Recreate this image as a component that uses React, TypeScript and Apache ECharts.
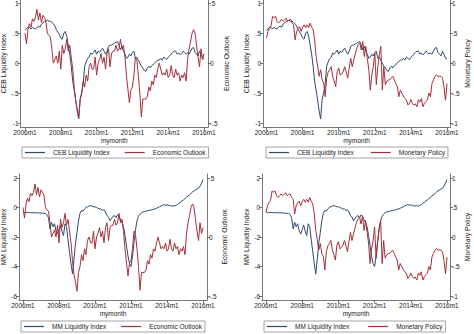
import React, { useEffect, useRef } from "react";
import * as echarts from "echarts";

// month index: 0 = 2006m1 ... 120 = 2016m1
const MONTHS: number[] = Array.from({ length: 121 }, (_, i) => i);
const X_TICKS = [0, 24, 48, 72, 96, 120];
const X_TICK_LABELS = ["2006m1", "2008m1", "2010m1", "2012m1", "2014m1", "2016m1"];

const CEB_TICKS = [-1, -0.5, 0, 0.5, 1];
const EO_TICKS = [-0.5, 0, 0.5];
const MP_TICKS = [-1, -0.5, 0, 0.5, 1];
const MM_TICKS = [-6, -4, -2, 0, 2];

const CEB_LIQUIDITY: number[] = [
  0.55, 0.57, 0.6, 0.6, 0.57, 0.6, 0.58, 0.57, 0.6, 0.62, 0.6, 0.65,
  0.67, 0.7, 0.7, 0.72, 0.7, 0.7, 0.68, 0.66, 0.62, 0.56, 0.52, 0.48,
  0.42, 0.4, 0.5, 0.53, 0.45, 0.3, 0.15, -0.05, -0.3, -0.45, -0.62, -0.8,
  -0.93, -0.6, -0.5, -0.35, -0.05, 0.02, 0.08, 0.1, 0.17, 0.15, 0.18, 0.22,
  0.15, 0.2, 0.18, 0.22, 0.25, 0.2, 0.15, 0.2, 0.28, 0.3, 0.3, 0.32,
  0.33, 0.35, 0.36, 0.3, 0.22, 0.28, 0.2, 0.15, 0.08, 0.1, 0.15, 0.12,
  0.18, 0.2, 0.08, 0.1, 0.05, 0.0, -0.05, -0.08, -0.12, -0.14, -0.08, -0.05,
  -0.08, -0.04, -0.02, 0.0, 0.03, 0.05, 0.05, 0.08, 0.05, 0.1, 0.08, 0.06,
  0.1, 0.12, 0.15, 0.18, 0.2, 0.2, 0.15, 0.17, 0.14, 0.16, 0.2, 0.18,
  0.15, 0.17, 0.15, 0.2, 0.25, 0.26, 0.18, 0.15, 0.12, 0.2, 0.15, 0.08, 0.07,
];

const MM_LIQUIDITY: number[] = [
  -0.3, -0.35, -0.35, -0.33, -0.35, -0.35, -0.36, -0.35, -0.35, -0.37, -0.36, -0.37,
  -0.38, -0.38, -0.4, -0.4, -0.5, -0.7, -1.45, -1.0, -1.3, -1.1, -1.6, -1.8,
  -1.5, -1.2, -1.6, -1.9, -1.1, -1.3, -2.2, -3.0, -3.8, -4.5, -3.5, -2.4,
  -1.7, -0.9, -0.4, -0.2, -0.25, -0.1, 0.0, 0.05, 0.1, 0.13, 0.1, 0.05,
  0.05, 0.0, -0.05, -0.1, -0.1, -0.2, -0.15, -0.3, -0.55, -0.65, -0.9, -0.75,
  -0.6, -0.55, -0.7, -0.5, -0.6, -0.85, -1.0, -1.3, -1.9, -2.6, -3.3, -3.8,
  -4.0, -3.3, -2.4, -1.5, -0.9, -0.6, -0.45, -0.35, -0.3, -0.28, -0.25, -0.22,
  -0.2, -0.18, -0.15, -0.12, -0.1, -0.05, 0.0, 0.05, 0.1, 0.15, 0.2, 0.15,
  0.18, 0.15, 0.12, 0.1, 0.12, 0.1, 0.15, 0.2, 0.28, 0.35, 0.45, 0.52,
  0.6, 0.7, 0.78, 0.85, 0.95, 1.05, 1.12, 1.2, 1.25, 1.3, 1.45, 1.65, 1.9,
];

const ECONOMIC_OUTLOOK: number[] = [
  0.25, 0.16, 0.28, 0.33, 0.3, 0.37, 0.35, 0.38, 0.45, 0.36, 0.42, 0.34,
  0.4, 0.38, 0.35, 0.25, 0.23, 0.22, 0.12, 0.0, 0.03, 0.06, 0.0, 0.1,
  -0.05, 0.15, 0.08, 0.12, 0.2, 0.1, 0.15, 0.05, -0.05, -0.2, -0.32, -0.38,
  -0.46, -0.3, -0.25, -0.15, -0.2, -0.1, -0.15, -0.03, 0.0, -0.05, -0.05, 0.05,
  -0.1, 0.0, 0.03, 0.08, 0.0, 0.05, -0.05, 0.08, 0.12, -0.03, 0.08, 0.1,
  0.1, 0.15, 0.1, 0.12, 0.2, 0.12, 0.15, 0.05, -0.1, -0.22, -0.33, -0.22,
  -0.2, -0.1, 0.05, 0.02, -0.1, -0.25, -0.45, -0.3, -0.3, -0.3, -0.28, -0.2,
  -0.23, -0.15, -0.18, -0.1, -0.12, -0.05, 0.0, -0.05, -0.1, -0.08, -0.1, -0.05,
  -0.12, -0.1, -0.02, -0.1, -0.12, -0.05, -0.1, -0.08, -0.15, -0.1, -0.12, -0.08,
  -0.15, 0.03, 0.12, 0.18, 0.25, 0.28, 0.25, 0.15, 0.05, -0.03, 0.12, 0.03, 0.08,
];

const MONETARY_POLICY: number[] = [
  0.42, 0.53, 0.59, 0.62, 0.78, 0.76, 0.78, 0.7, 0.67, 0.7, 0.73, 0.7,
  0.72, 0.75, 0.7, 0.72, 0.73, 0.67, 0.64, 0.39, 0.53, 0.58, 0.61, 0.53,
  0.6, 0.64, 0.59, 0.64, 0.59, 0.67, 0.6, 0.56, 0.39, 0.11, -0.05, -0.22,
  -0.11, -0.28, -0.33, -0.56, -0.25, -0.15, -0.11, -0.06, -0.22, -0.3, -0.39, -0.14,
  -0.08, -0.2, -0.18, -0.14, -0.06, -0.15, -0.25, -0.08, 0.08, -0.06, 0.05, 0.15,
  0.25, 0.31, 0.34, 0.22, 0.36, 0.11, 0.28, 0.08, -0.1, -0.45, -0.2, -0.06,
  0.17, -0.36, -0.06, 0.15, 0.28, -0.45, -0.06, -0.36, -0.3, -0.28, -0.28, -0.25,
  -0.22, -0.28, -0.34, -0.39, -0.56, -0.45, -0.5, -0.55, -0.59, -0.61, -0.7, -0.67,
  -0.61, -0.67, -0.7, -0.68, -0.73, -0.61, -0.65, -0.59, -0.73, -0.67, -0.64, -0.61,
  -0.5, -0.56, -0.34, -0.28, -0.22, -0.2, -0.22, -0.22, -0.22, -0.25, -0.4, -0.62, -0.34,
];

const BLUE = "#2c4a6b";
const RED = "#a3303c";
const AXIS = "#555";
const TEXT = "#1a1a1a";
const FONT = "Liberation Sans, Arial, sans-serif";
const FS = 6.5;

type Panel = {
  left: number; right: number; top: number; bottom: number;
  x0: number; x120: number;
  yHiPx: number; yLoPx: number;
  lTicks: number[]; rTicks: number[];
  lName: string; rName: string;
  lSeries: number[]; rSeries: number[];
  lGap: number; rGap: number;
  legend: { left: number; top: number; gap: number };
};

const PANELS: Panel[] = [
  {
    left: 20.5, right: 208, top: 0, bottom: 127, x0: 25, x120: 204,
    yHiPx: 3.3, yLoPx: 123, lTicks: CEB_TICKS, rTicks: EO_TICKS,
    lName: "CEB Liquidity Index", rName: "Economic Outlook",
    lSeries: CEB_LIQUIDITY, rSeries: ECONOMIC_OUTLOOK, lGap: 12, rGap: 15,
    legend: { left: 22, top: 147, gap: 15 },
  },
  {
    left: 263, right: 450, top: 0, bottom: 127, x0: 266.5, x120: 447,
    yHiPx: 3.3, yLoPx: 123, lTicks: CEB_TICKS, rTicks: MP_TICKS,
    lName: "CEB Liquidity Index", rName: "Monetary Policy",
    lSeries: CEB_LIQUIDITY, rSeries: MONETARY_POLICY, lGap: 13, rGap: 14,
    legend: { left: 266, top: 147, gap: 17 },
  },
  {
    left: 19, right: 207, top: 174, bottom: 300, x0: 23, x120: 203,
    yHiPx: 178, yLoPx: 296, lTicks: MM_TICKS, rTicks: EO_TICKS,
    lName: "MM Liquidity Index", rName: "Economic Outlook",
    lSeries: MM_LIQUIDITY, rSeries: ECONOMIC_OUTLOOK, lGap: 9, rGap: 14,
    legend: { left: 21, top: 321, gap: 15 },
  },
  {
    left: 262, right: 450, top: 174, bottom: 300, x0: 266, x120: 447,
    yHiPx: 178, yLoPx: 296, lTicks: MM_TICKS, rTicks: MP_TICKS,
    lName: "MM Liquidity Index", rName: "Monetary Policy",
    lSeries: MM_LIQUIDITY, rSeries: MONETARY_POLICY, lGap: 12, rGap: 14,
    legend: { left: 264, top: 321, gap: 19 },
  },
];

const stataFmt = (v: number) => {
  const r = Math.round(v * 1000) / 1000;
  let s = String(r);
  s = s.replace(/^(-?)0\./, "$1.");
  return s;
};

function yRange(p: Panel, ticks: number[]) {
  const hi = ticks[ticks.length - 1];
  const lo = ticks[0];
  const k = (p.yLoPx - p.yHiPx) / (hi - lo);
  return { min: lo - (p.bottom - p.yLoPx) / k, max: hi + (p.yHiPx - p.top) / k };
}

function xRange(p: Panel) {
  const k = (p.x120 - p.x0) / 120;
  return { min: -(p.x0 - p.left) / k, max: 120 + (p.right - p.x120) / k };
}

function buildOption() {
  const grid: any[] = [];
  const xAxis: any[] = [];
  const yAxis: any[] = [];
  const series: any[] = [];
  const legend: any[] = [];

  PANELS.forEach((p, g) => {
    grid.push({
      left: p.left, top: p.top, width: p.right - p.left, height: p.bottom - p.top,
      containLabel: false, outerBoundsMode: "none",
    });
    const xr = xRange(p);
    xAxis.push({
      type: "value", gridIndex: g, min: xr.min, max: xr.max,
      axisLine: { show: true, onZero: false, lineStyle: { color: AXIS, width: 0.8 } },
      axisTick: { show: true, length: 3, customValues: X_TICKS, lineStyle: { color: AXIS, width: 0.8 } },
      axisLabel: {
        customValues: X_TICKS, margin: 2, fontSize: FS, color: TEXT, fontFamily: FONT,
        formatter: (v: number) => X_TICK_LABELS[X_TICKS.indexOf(Math.round(v))] ?? "",
      },
      splitLine: { show: false },
      name: "mymonth", nameLocation: "middle", nameGap: 10,
      nameTextStyle: { fontSize: FS, color: TEXT, fontFamily: FONT },
    });
    const mkY = (pos: "left" | "right", ticks: number[], name: string, gap: number) => {
      const r = yRange(p, ticks);
      return {
        type: "value", gridIndex: g, position: pos, min: r.min, max: r.max,
        axisLine: { show: true, onZero: false, lineStyle: { color: AXIS, width: 0.8 } },
        axisTick: { show: true, length: 3, customValues: ticks, lineStyle: { color: AXIS, width: 0.8 } },
        axisLabel: {
          customValues: ticks, margin: 2, fontSize: FS, color: TEXT, fontFamily: FONT,
          formatter: (v: number) => stataFmt(v),
        },
        splitLine: { show: false },
        name, nameLocation: "middle", nameGap: gap, nameRotate: 90,
        nameTextStyle: { fontSize: 6.8, color: TEXT, fontFamily: FONT },
      };
    };
    yAxis.push(mkY("left", p.lTicks, p.lName, p.lGap));
    yAxis.push(mkY("right", p.rTicks, p.rName, p.rGap));

    series.push({
      type: "line", name: p.lName, xAxisIndex: g, yAxisIndex: 2 * g,
      data: p.lSeries.map((v, i) => [MONTHS[i], v]),
      symbol: "none", showSymbol: false,
      lineStyle: { color: BLUE, width: 1 }, itemStyle: { color: BLUE },
      z: 2,
    });
    series.push({
      type: "line", name: p.rName, xAxisIndex: g, yAxisIndex: 2 * g + 1,
      data: p.rSeries.map((v, i) => [MONTHS[i], v]),
      symbol: "none", showSymbol: false,
      lineStyle: { color: RED, width: 1 }, itemStyle: { color: RED },
      z: 3,
    });

    legend.push({
      data: [p.lName, p.rName],
      left: p.legend.left, top: p.legend.top, orient: "horizontal",
      icon: "rect",
      itemWidth: 20, itemHeight: 1.2, itemGap: p.legend.gap,
      padding: [2, 3, 2, 3],
      borderColor: "#8a8a8a", borderWidth: 0.8, backgroundColor: "#fff",
      selectedMode: false,
      textStyle: { fontSize: FS, color: TEXT, fontFamily: FONT, padding: [0, 0, 0, 3] },
    });
  });

  return {
    animation: false,
    backgroundColor: "#ffffff",
    grid, xAxis, yAxis, series, legend,
  };
}

export default function App() {
  const ref = useRef<HTMLDivElement>(null);
  useEffect(() => {
    if (!ref.current) return;
    const chart = echarts.init(ref.current, undefined, { renderer: "svg" });
    chart.setOption(buildOption() as any);
    return () => chart.dispose();
  }, []);
  return (
    <div
      ref={ref}
      style={{ position: "absolute", left: 0, top: 0, width: 474, height: 334, background: "#fff" }}
    />
  );
}
